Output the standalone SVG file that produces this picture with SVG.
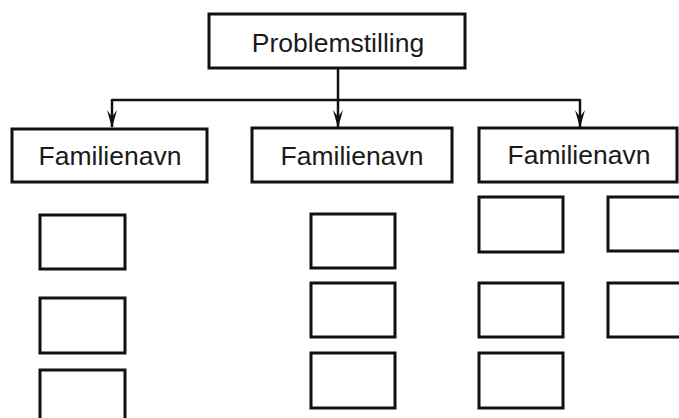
<svg xmlns="http://www.w3.org/2000/svg" width="679" height="418" viewBox="0 0 679 418">
<style>
.box{fill:#fff;stroke:#111;stroke-width:3}
.lbl{font-family:"Liberation Sans",Arial,sans-serif;font-size:26.5px;fill:#1a1a1a;text-anchor:middle}
.con{fill:none;stroke:#111;stroke-width:2.5}
</style>
<defs>
<marker id="arr" markerWidth="18" markerHeight="10" refX="17" refY="5" orient="auto" markerUnits="userSpaceOnUse" viewBox="0 0 18 10">
<path d="M0,0 L7,5 L0,10 L18,5 Z" fill="#111"/>
</marker>
</defs>
<g id="connectors">
<path class="con" d="M338,68 V127" marker-end="url(#arr)"/>
<path class="con" d="M112,100 H580"/>
<path class="con" d="M112,99 V127" marker-end="url(#arr)"/>
<path class="con" d="M580,99 V127" marker-end="url(#arr)"/>
</g>
<g id="problemstilling">
<rect class="box" x="209" y="14" width="256" height="54"/>
<text class="lbl" x="338" y="52">Problemstilling</text>
</g>
<g id="familie1">
<rect class="box" x="12" y="129" width="195" height="53"/>
<text class="lbl" x="110" y="165">Familienavn</text>
</g>
<g id="familie2">
<rect class="box" x="252" y="128" width="200" height="54"/>
<text class="lbl" x="352" y="165">Familienavn</text>
</g>
<g id="familie3">
<rect class="box" x="479" y="128" width="198" height="54"/>
<text class="lbl" x="579" y="164">Familienavn</text>
</g>
<g id="l1"><rect class="box" x="40" y="215" width="85" height="54"/></g>
<g id="l2"><rect class="box" x="40" y="298" width="85" height="55"/></g>
<g id="l3"><rect class="box" x="40" y="370" width="85" height="60"/></g>
<g id="m1"><rect class="box" x="311" y="214" width="84" height="54"/></g>
<g id="m2"><rect class="box" x="311" y="283" width="84" height="54"/></g>
<g id="m3"><rect class="box" x="311" y="353" width="84" height="55"/></g>
<g id="a1"><rect class="box" x="479" y="197" width="84" height="55"/></g>
<g id="a2"><rect class="box" x="479" y="283" width="84" height="54"/></g>
<g id="a3"><rect class="box" x="479" y="353" width="84" height="55"/></g>
<g id="b1"><rect class="box" x="608" y="197" width="85" height="54"/></g>
<g id="b2"><rect class="box" x="608" y="283" width="85" height="54"/></g>
</svg>
